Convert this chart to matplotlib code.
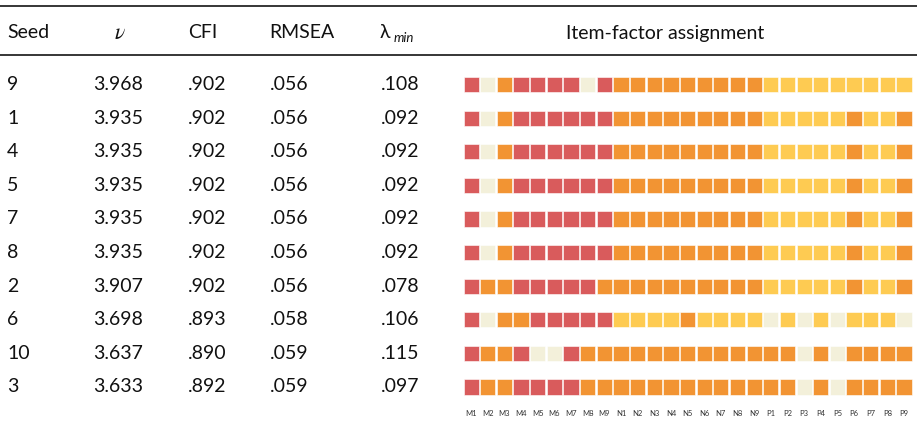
import matplotlib
matplotlib.use("Agg")
import matplotlib.pyplot as plt
from matplotlib.patches import Rectangle

plt.rcParams["font.family"] = ["Lato", "DejaVu Sans"]
plt.rcParams["mathtext.fontset"] = "stix"

# Table data
seeds = ["9", "1", "4", "5", "7", "8", "2", "6", "10", "3"]
nu = ["3.968", "3.935", "3.935", "3.935", "3.935", "3.935", "3.907", "3.698", "3.637", "3.633"]
cfi = [".902", ".902", ".902", ".902", ".902", ".902", ".902", ".893", ".890", ".892"]
rmsea = [".056", ".056", ".056", ".056", ".056", ".056", ".056", ".058", ".059", ".059"]
lam_min = [".108", ".092", ".092", ".092", ".092", ".092", ".078", ".106", ".115", ".097"]

items = [f"M{i}" for i in range(1, 10)] + [f"N{i}" for i in range(1, 10)] + [f"P{i}" for i in range(1, 10)]

# Factor per item: R = red, O = orange, Y = yellow, B = unassigned (beige)
assignments = [
    "RBORRRRBR" + "OOOOOOOOO" + "YYYYYYYYY",
    "RBORRRRRR" + "OOOOOOOOO" + "YYYYYOYYO",
    "RBORRRRRR" + "OOOOOOOOO" + "YYYYYOYYO",
    "RBORRRRRR" + "OOOOOOOOO" + "YYYYYOYYO",
    "RBORRRRRR" + "OOOOOOOOO" + "YYYYYOYYO",
    "RBORRRRRR" + "OOOOOOOOO" + "YYYYYOYYO",
    "ROORRRRRO" + "OOOOOOOOO" + "YYYYYOYYO",
    "RBOORRRRR" + "YYYYOYYYY" + "BYBYBYYYB",
    "ROORBBROO" + "OOOOOOOOO" + "OOBOBOOOO",
    "ROORRRROO" + "OOOOOOOOO" + "OOBOBOOOO",
]

colors = {"R": "#d95b5c", "O": "#f29433", "Y": "#fecb52", "B": "#f3f0da"}

W, H = 917, 441
fig = plt.figure(figsize=(W / 100, H / 100), dpi=100)
ax = fig.add_axes([0, 0, 1, 1])
ax.set_xlim(0, W)
ax.set_ylim(H, 0)
ax.axis("off")

txt = "#111111"
fs = 14

# Layout
row_y0, row_step = 84.5, 33.6
header_y = 33
sq_x0, sq_pitch, sq_size = 463.5, 16.65, 15.2

# Rules
ax.plot([0, W], [5.5, 5.5], color="black", lw=1.1)
ax.plot([0, W], [55, 55], color="black", lw=1.1)

# Header
ax.text(7, header_y, "Seed", fontsize=fs, va="center", ha="left", color=txt)
ax.text(120, header_y, r"$\nu$", fontsize=fs + 1.5, va="center", ha="center", color=txt)
ax.text(188, header_y, "CFI", fontsize=fs, va="center", ha="left", color=txt)
ax.text(269, header_y, "RMSEA", fontsize=fs, va="center", ha="left", color=txt)
ax.text(380, header_y, "λ", fontsize=fs, va="center", ha="left", color=txt)
ax.text(394, header_y + 5, "min", fontsize=fs - 4.5, style="italic", va="center", ha="left", color=txt)
ax.text(665, header_y, "Item-factor assignment", fontsize=fs, va="center", ha="center", color=txt)

# Rows
for i in range(len(seeds)):
    y = row_y0 + i * row_step
    ax.text(7, y, seeds[i], fontsize=fs, va="center", ha="left", color=txt)
    ax.text(93, y, nu[i], fontsize=fs, va="center", ha="left", color=txt)
    ax.text(188, y, cfi[i], fontsize=fs, va="center", ha="left", color=txt)
    ax.text(270, y, rmsea[i], fontsize=fs, va="center", ha="left", color=txt)
    ax.text(381, y, lam_min[i], fontsize=fs, va="center", ha="left", color=txt)
    for j, f in enumerate(assignments[i]):
        x = sq_x0 + j * sq_pitch
        ax.add_patch(Rectangle((x, y - sq_size / 2), sq_size, sq_size,
                               facecolor=colors[f], edgecolor="white", lw=0.4))

# Item labels
label_y = row_y0 + (len(seeds) - 1) * row_step + 27
for j, name in enumerate(items):
    ax.text(sq_x0 + j * sq_pitch + sq_size / 2, label_y, name, fontsize=5.5,
            ha="center", va="center", color="#333333")

fig.savefig("out.png", dpi=100)
